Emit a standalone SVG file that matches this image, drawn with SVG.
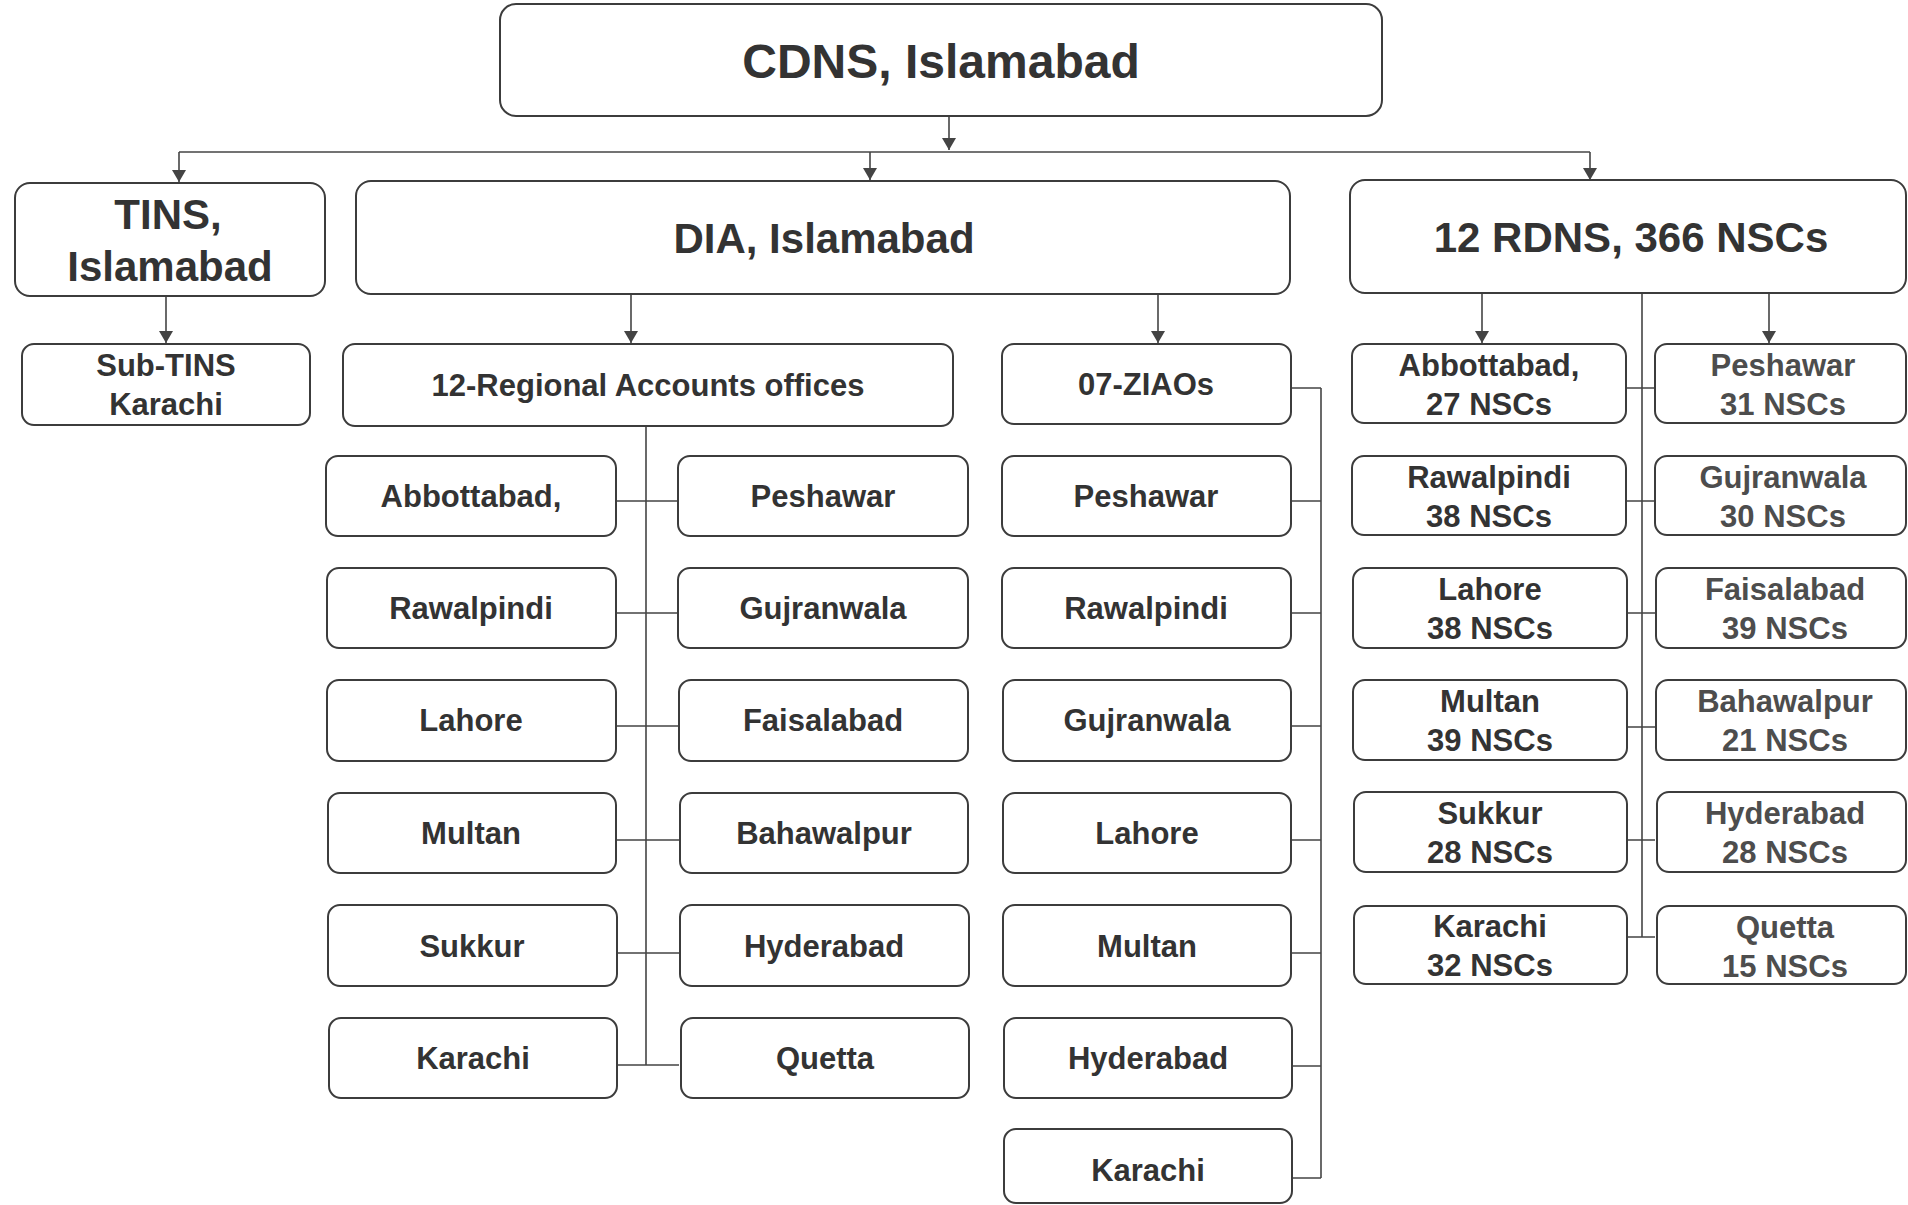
<svg xmlns="http://www.w3.org/2000/svg" width="1908" height="1205" viewBox="0 0 1908 1205">
<style>
.b{fill:#fff;stroke:#3c3c3c;stroke-width:2}
.t{font-family:"Liberation Sans",Arial,sans-serif;font-weight:bold;fill:#333;text-anchor:middle}
.s{font-size:31px}
.m{font-size:42px}
.l{font-size:48px}
.g{fill:#4d4d4d}
.c{fill:none;stroke:#444;stroke-width:1.6}
</style>
<defs>
<marker id="ah" markerUnits="userSpaceOnUse" markerWidth="12" markerHeight="14" viewBox="0 0 12 14" refX="12" refY="7" orient="auto">
<path d="M0,0 L12,7 L0,14 z" fill="#444"/>
</marker>
</defs>
<rect width="1908" height="1205" fill="#fff"/>
<g id="connectors" class="c">
<path d="M949,116 V150" marker-end="url(#ah)"/>
<path d="M179,152 H1590"/>
<path d="M179,152 V182" marker-end="url(#ah)"/>
<path d="M870,152 V180" marker-end="url(#ah)"/>
<path d="M1590,152 V180" marker-end="url(#ah)"/>
<path d="M166,296 V343" marker-end="url(#ah)"/>
<path d="M631,294 V343" marker-end="url(#ah)"/>
<path d="M1158,294 V343" marker-end="url(#ah)"/>
<path d="M1482,293 V343" marker-end="url(#ah)"/>
<path d="M1769,293 V343" marker-end="url(#ah)"/>
<path d="M1642,293 V937"/>
<path d="M1626,388 H1655 M1626,501 H1655 M1626,613 H1655 M1626,727 H1655 M1626,840 H1655 M1626,937 H1655"/>
<path d="M646,426 V1065"/>
<path d="M616,501 H679 M616,613 H679 M616,726 H679 M616,840 H679 M616,953 H679 M616,1065 H679"/>
<path d="M1321,388 V1178"/>
<path d="M1291,388 H1321 M1291,501 H1321 M1291,613 H1321 M1291,726 H1321 M1291,840 H1321 M1291,953 H1321 M1291,1066 H1321 M1291,1178 H1321"/>
</g>
<g id="cdns"><rect class="b" x="500" y="4" width="882" height="112" rx="16"/><text class="t l" x="941" y="78">CDNS, Islamabad</text></g>
<g id="tins"><rect class="b" x="15" y="183" width="310" height="113" rx="15"/><text class="t m" x="168" y="229">TINS,</text><text class="t m" x="170" y="281">Islamabad</text></g>
<g id="dia"><rect class="b" x="356" y="181" width="934" height="113" rx="15"/><text class="t m" x="824" y="253">DIA, Islamabad</text></g>
<g id="rdns"><rect class="b" x="1350" y="180" width="556" height="113" rx="15"/><text class="t m" x="1631" y="252">12 RDNS, 366 NSCs</text></g>
<g id="subtins"><rect class="b" x="22" y="344" width="288" height="81" rx="12"/><text class="t s" x="166" y="376">Sub-TINS</text><text class="t s" x="166" y="415">Karachi</text></g>
<g id="rao"><rect class="b" x="343" y="344" width="610" height="82" rx="12"/><text class="t s" x="648" y="396">12-Regional Accounts offices</text></g>
<g id="ziaos"><rect class="b" x="1002" y="344" width="289" height="80" rx="12"/><text class="t s" x="1146" y="395">07-ZIAOs</text></g>

<g id="rao-abbottabad"><rect class="b" x="326" y="456" width="290" height="80" rx="12"/><text class="t s" x="471" y="507">Abbottabad,</text></g>
<g id="rao-peshawar"><rect class="b" x="678" y="456" width="290" height="80" rx="12"/><text class="t s" x="823" y="507">Peshawar</text></g>
<g id="rao-rawalpindi"><rect class="b" x="327" y="568" width="289" height="80" rx="12"/><text class="t s" x="471" y="619">Rawalpindi</text></g>
<g id="rao-gujranwala"><rect class="b" x="678" y="568" width="290" height="80" rx="12"/><text class="t s" x="823" y="619">Gujranwala</text></g>
<g id="rao-lahore"><rect class="b" x="327" y="680" width="289" height="81" rx="12"/><text class="t s" x="471" y="731">Lahore</text></g>
<g id="rao-faisalabad"><rect class="b" x="679" y="680" width="289" height="81" rx="12"/><text class="t s" x="823" y="731">Faisalabad</text></g>
<g id="rao-multan"><rect class="b" x="328" y="793" width="288" height="80" rx="12"/><text class="t s" x="471" y="844">Multan</text></g>
<g id="rao-bahawalpur"><rect class="b" x="680" y="793" width="288" height="80" rx="12"/><text class="t s" x="824" y="844">Bahawalpur</text></g>
<g id="rao-sukkur"><rect class="b" x="328" y="905" width="289" height="81" rx="12"/><text class="t s" x="472" y="957">Sukkur</text></g>
<g id="rao-hyderabad"><rect class="b" x="680" y="905" width="289" height="81" rx="12"/><text class="t s" x="824" y="957">Hyderabad</text></g>
<g id="rao-karachi"><rect class="b" x="329" y="1018" width="288" height="80" rx="12"/><text class="t s" x="473" y="1069">Karachi</text></g>
<g id="rao-quetta"><rect class="b" x="681" y="1018" width="288" height="80" rx="12"/><text class="t s" x="825" y="1069">Quetta</text></g>

<g id="ziao-peshawar"><rect class="b" x="1002" y="456" width="289" height="80" rx="12"/><text class="t s" x="1146" y="507">Peshawar</text></g>
<g id="ziao-rawalpindi"><rect class="b" x="1002" y="568" width="289" height="80" rx="12"/><text class="t s" x="1146" y="619">Rawalpindi</text></g>
<g id="ziao-gujranwala"><rect class="b" x="1003" y="680" width="288" height="81" rx="12"/><text class="t s" x="1147" y="731">Gujranwala</text></g>
<g id="ziao-lahore"><rect class="b" x="1003" y="793" width="288" height="80" rx="12"/><text class="t s" x="1147" y="844">Lahore</text></g>
<g id="ziao-multan"><rect class="b" x="1003" y="905" width="288" height="81" rx="12"/><text class="t s" x="1147" y="957">Multan</text></g>
<g id="ziao-hyderabad"><rect class="b" x="1004" y="1018" width="288" height="80" rx="12"/><text class="t s" x="1148" y="1069">Hyderabad</text></g>
<g id="ziao-karachi"><rect class="b" x="1004" y="1129" width="288" height="74" rx="12"/><text class="t s" x="1148" y="1181">Karachi</text></g>

<g id="rdns-abbottabad"><rect class="b" x="1352" y="344" width="274" height="79" rx="12"/><text class="t s" x="1489" y="376">Abbottabad,</text><text class="t s" x="1489" y="415">27 NSCs</text></g>
<g id="rdns-peshawar"><rect class="b" x="1655" y="344" width="251" height="79" rx="12"/><text class="t s g" x="1783" y="376">Peshawar</text><text class="t s g" x="1783" y="415">31 NSCs</text></g>
<g id="rdns-rawalpindi"><rect class="b" x="1352" y="456" width="274" height="79" rx="12"/><text class="t s" x="1489" y="488">Rawalpindi</text><text class="t s" x="1489" y="527">38 NSCs</text></g>
<g id="rdns-gujranwala"><rect class="b" x="1655" y="456" width="251" height="79" rx="12"/><text class="t s g" x="1783" y="488">Gujranwala</text><text class="t s g" x="1783" y="527">30 NSCs</text></g>
<g id="rdns-lahore"><rect class="b" x="1353" y="568" width="274" height="80" rx="12"/><text class="t s" x="1490" y="600">Lahore</text><text class="t s" x="1490" y="639">38 NSCs</text></g>
<g id="rdns-faisalabad"><rect class="b" x="1656" y="568" width="250" height="80" rx="12"/><text class="t s g" x="1785" y="600">Faisalabad</text><text class="t s g" x="1785" y="639">39 NSCs</text></g>
<g id="rdns-multan"><rect class="b" x="1353" y="680" width="274" height="80" rx="12"/><text class="t s" x="1490" y="712">Multan</text><text class="t s" x="1490" y="751">39 NSCs</text></g>
<g id="rdns-bahawalpur"><rect class="b" x="1656" y="680" width="250" height="80" rx="12"/><text class="t s g" x="1785" y="712">Bahawalpur</text><text class="t s g" x="1785" y="751">21 NSCs</text></g>
<g id="rdns-sukkur"><rect class="b" x="1354" y="792" width="273" height="80" rx="12"/><text class="t s" x="1490" y="824">Sukkur</text><text class="t s" x="1490" y="863">28 NSCs</text></g>
<g id="rdns-hyderabad"><rect class="b" x="1657" y="792" width="249" height="80" rx="12"/><text class="t s g" x="1785" y="824">Hyderabad</text><text class="t s g" x="1785" y="863">28 NSCs</text></g>
<g id="rdns-karachi"><rect class="b" x="1354" y="906" width="273" height="78" rx="12"/><text class="t s" x="1490" y="937">Karachi</text><text class="t s" x="1490" y="976">32 NSCs</text></g>
<g id="rdns-quetta"><rect class="b" x="1657" y="906" width="249" height="78" rx="12"/><text class="t s g" x="1785" y="938">Quetta</text><text class="t s g" x="1785" y="977">15 NSCs</text></g>
</svg>
